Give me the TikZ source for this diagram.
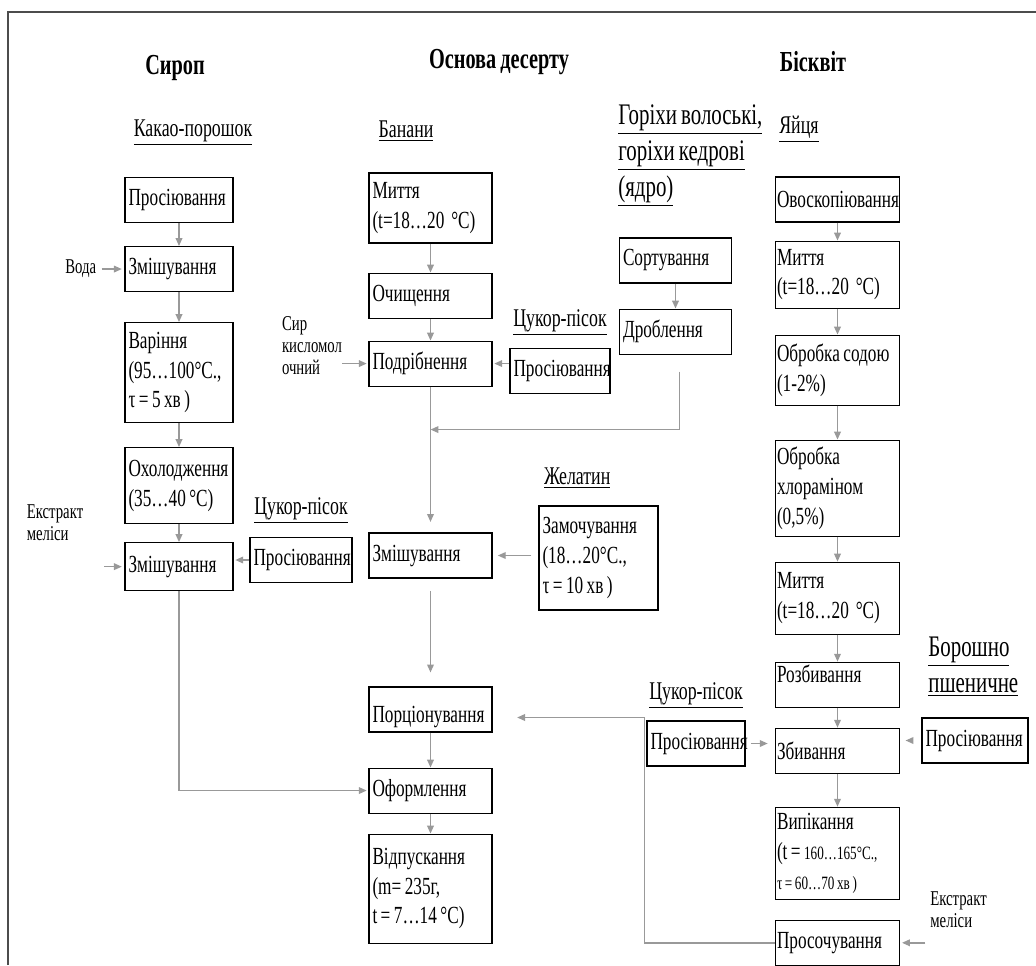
\documentclass[tikz,border=0pt]{standalone}
\usepackage{fontspec}
\setmainfont{Liberation Serif}[FakeStretch=0.7, WordSpace=0.8]
\usetikzlibrary{arrows.meta,positioning,calc}

\begin{document}
\begin{tikzpicture}[
    x=0.02cm, y=-0.02cm,
    font=\fontsize{14}{17}\selectfont,
    stage/.style={
        draw,
        line width=0.6pt,
        align=left,
        inner xsep=2pt,
        inner ysep=2pt,
        minimum height=0.9cm,
        execute at begin node={\spaceskip=0pt\xspaceskip=0pt\relax}
    },
    head/.style={font=\fontsize{16.5}{19}\selectfont\bfseries},
    src/.style={align=left, inner sep=0pt, font=\fontsize{14.5}{17}\selectfont},
    bigsrc/.style={align=left, inner sep=0pt, font=\fontsize{17}{20.5}\selectfont},
    note/.style={align=left, inner sep=0pt, font=\fontsize{12}{12.5}\selectfont},
    arrow/.style={-{Triangle[length=4.5pt, width=3.8pt]}, line width=0.8pt, black!40}
]
\useasboundingbox (0,0) rectangle (1036,965);
\draw[line width=1pt, black!70] (8,965) -- (8,12) -- (1036,12);

% Сироп
\node[head] (syrop) at (175,68) {Сироп};
\node[src] (cocoa) at (193,133) {\underline{Какао-порошок}};
\node[stage, text width=2.02cm] (sift1) at (179,200) {Просіювання};
\node[stage, text width=2.02cm, below=4.6mm of sift1] (mixw) {Змішування};
\node[stage, text width=2.02cm, minimum height=2cm, below=6mm of mixw] (boil) {Варіння\\(95…100°C.,\\ τ = 5 хв )};
\node[stage, text width=2.02cm, minimum height=1.52cm, below=4.8mm of boil] (cool) {Охолодження\\(35…40 °C)};
\node[stage, text width=2.02cm, minimum height=0.96cm, below=3.6mm of cool] (mix1) {Змішування};
\node[note, left=5.6mm of mixw] (water) {Вода};
\node[note] (extr1) at (55,523) {Екстракт\\меліси};
\coordinate (e1) at ($(mix1.west)+(-20,0)$);
\node[stage, text width=1.9cm] (sift2) at (301,560) {Просіювання};
\node[src, above=2.6mm of sift2] (sugar1) {\underline{Цукор-пісок}};

\draw[arrow] (sift1) -- (mixw);
\draw[arrow] (mixw) -- (boil);
\draw[arrow] (boil) -- (cool);
\draw[arrow] (cool) -- (mix1);
\draw[arrow, shorten <=3pt, shorten >=1.5pt] (water) -- (mixw);
\draw[arrow, shorten >=1.5pt] (e1) -- (mix1.west);
\draw[arrow, shorten >=1pt] (sift2.west) -- (sift2.west -| mix1.east);

% Основа десерту
\node[head] (desert) at (499,62) {Основа десерту};
\node[src] (banana) at (406,131) {\underline{Банани}};
\node[stage, text width=2.32cm, minimum height=1.4cm] (wash1) at (430.5,208) {Миття\\(t=18…20 \ °C)};
\node[stage, text width=2.32cm, below=5.8mm of wash1] (peel) {Очищення};
\node[stage, text width=2.32cm, below=4.4mm of peel] (chop) {Подрібнення};
\node[note] (curd) at (312,346) {Сир\\кисломол\\очний};
\node[stage, text width=1.86cm] (sift3) at (560,371) {Просіювання};
\node[src, above=2.4mm of sift3] (sugar2) {\underline{Цукор-пісок}};
\node[bigsrc, anchor=north west] (nuts) at (618,104) {\underline{Горіхи волоські,}\\\underline{горіхи кедрові}\\\underline{(ядро)}};
\node[stage, text width=2.1cm] (sort) at (675.5,260.5) {Сортування};
\node[stage, text width=2.1cm, below=5mm of sort] (crush) {Дроблення};
\node[stage, text width=2.32cm] (mix2) at (430.5,555.5) {Змішування};
\node[stage, text width=2.24cm, minimum height=2.08cm] (soak1) at (598.5,558) {Замочування\\(18…20°C.,\\ τ = 10 хв )};
\node[src, above=3.4mm of soak1.north west, anchor=south west, xshift=3pt] (gelatin) {\underline{Желатин}};
\node[stage, text width=2.32cm] (portion) at (430.5,709.5) {\raisebox{-4.5pt}[9pt][3pt]{Порціонування}};
\node[stage, text width=2.32cm, below=7mm of portion] (decor) {Оформлення};
\node[stage, text width=2.32cm, minimum height=2.18cm, below=4mm of decor] (serve) {Відпускання\\(m= 235г,\\t = 7…14 °C)};
\coordinate (nutstart) at ($(crush.south)+(4,17)$);
\coordinate (nutturn) at ($(crush.south)+(4,75)$);

\draw[arrow] (wash1) -- (peel);
\draw[arrow] (peel) -- (chop);
\draw[arrow, shorten >=1pt] (curd.east |- chop.west) -- (chop.west);
\draw[arrow, shorten >=1pt] (sift3.west |- chop.east) -- (chop.east);
\draw[arrow] (sort) -- (crush);
\draw[arrow, shorten >=6pt] (chop) -- (mix2);
\draw[arrow] (nutstart) -- (nutturn) -- (nutturn -| chop.south);
\draw[arrow, shorten <=4pt, shorten >=3pt] (soak1.west |- mix2.east) -- (mix2.east);
\draw[arrow, shorten <=7pt, shorten >=8pt] (mix2) -- (portion);
\draw[arrow] (portion) -- (decor);
\draw[arrow] (decor) -- (serve);
\draw[arrow, shorten >=1pt] (mix1.south) |- (decor.west);

% Бісквіт
\tikzset{bis/.style={stage, inner xsep=1pt, text width=2.42cm}}
\node[head] (biscuit) at (813,62) {Бісквіт};
\node[src, anchor=west] (eggs) at (779,129) {\underline{Яйця}};
\node[bis] (candle) at (837.5,199.5) {Овоскопіювання};
\node[bis, minimum height=1.34cm, below=3.6mm of candle] (wash2) {Миття\\(t=18…20 \ °C)};
\node[bis, minimum height=1.4cm, below=5.2mm of wash2] (soda) {Обробка содою\\(1-2\%)};
\node[bis, minimum height=1.92cm, below=6.8mm of soda] (chlor) {Обробка\\хлораміном\\(0,5\%)};
\node[bis, minimum height=1.44cm, below=5mm of chlor] (wash3) {Миття\\(t=18…20 \ °C)};
\node[bis, below=5.4mm of wash3] (crack) {\raisebox{4pt}[9pt][3pt]{Розбивання}};
\node[bis, below=4mm of crack] (whip) {Збивання};
\node[bis, minimum height=1.84cm, below=6.6mm of whip] (bake) {Випікання\\(t = {\fontsize{10.7}{12}\selectfont 160…165°C.,}\\{\fontsize{10.7}{12}\selectfont τ = 60…70 хв )}};
\node[bis, below=4mm of bake] (soak2) {Просочування};
\node[bigsrc, anchor=west] (flour) at (928,667) {\underline{Борошно}\\\underline{пшеничне}};
\node[stage, text width=1.98cm] (sift5) at (975,740.5) {Просіювання};
\node[stage, text width=1.82cm] (sift4) at (696,743.5) {Просіювання};
\node[src, above=2.4mm of sift4] (sugar3) {\underline{Цукор-пісок}};
\node[note, anchor=west] (extr2) at (930,910) {Екстракт\\меліси};
\coordinate (e2) at ($(soak2.east)+(25,0)$);
\coordinate (bend) at ($(sift4.west |- portion.east)+(-2,8)$);

\draw[arrow] (candle) -- (wash2);
\draw[arrow] (wash2) -- (soda);
\draw[arrow] (soda) -- (chlor);
\draw[arrow] (chlor) -- (wash3);
\draw[arrow] (wash3) -- (crack);
\draw[arrow] (crack) -- (whip);
\draw[arrow] (whip) -- (bake);
\draw[arrow, shorten <=3pt, shorten >=4pt] (sift4.east) -- (sift4.east -| whip.west);
\draw[arrow, shorten <=7pt, shorten >=3pt] (sift5.west) -- (sift5.west -| whip.east);
\draw[arrow, shorten >=1pt] (e2) -- (soak2.east);
\draw[arrow, shorten >=14pt] (soak2.west) -| (bend) -- (bend -| portion.east);
\end{tikzpicture}
\end{document}
